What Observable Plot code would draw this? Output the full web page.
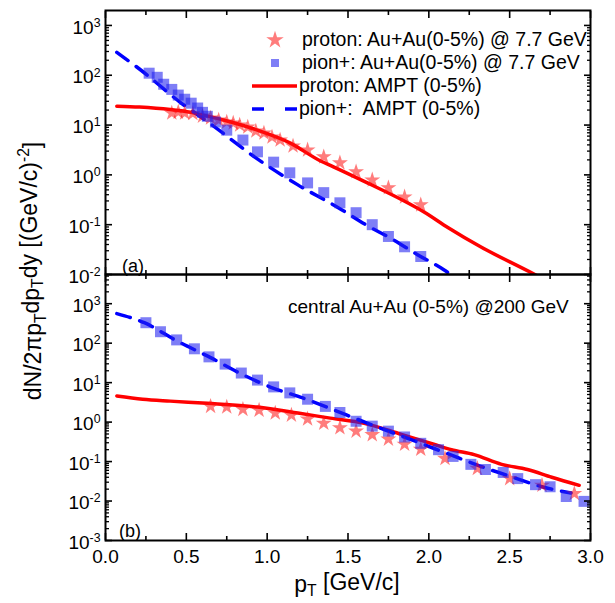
<!DOCTYPE html>
<html><head><meta charset="utf-8">
<script src="https://cdn.jsdelivr.net/npm/d3@7"></script>
<script src="https://cdn.jsdelivr.net/npm/@observablehq/plot@0.6"></script>
<style>
body{margin:0;background:#fff;}
#wrap{position:relative;width:615px;height:603px;}
#wrap svg{position:absolute;left:0;top:0;}
</style></head><body><div id="wrap"></div>
<script>
// ---------- tick values ----------
const xTickMajor = [0, 0.5, 1, 1.5, 2, 2.5, 3];
const xTickMinor = [0.25, 0.75, 1.25, 1.75, 2.25, 2.75];
const yDecadesA = [-2, -1, 0, 1, 2, 3];
const yDecadesB = [-3, -2, -1, 0, 1, 2, 3];

// ---------- panel (a): Au+Au 7.7 GeV ----------
const aProtonDataPt = [0.41,0.45,0.49,0.54,0.60,0.65,0.70,0.75,0.79,0.83,0.88,0.93,0.98,1.03,1.08,1.16,1.25,1.35,1.45,1.55,1.65,1.75,1.85,1.95];
const aProtonDataY  = [17.4,18.2,17.4,17.0,15.1,13.8,12.6,11.5,11.0,10.0,9.1,7.6,6.9,5.75,5.0,3.8,3.16,2.3,1.74,1.15,0.79,0.55,0.36,0.25];
const aPionDataPt = [0.27,0.32,0.36,0.41,0.45,0.49,0.53,0.57,0.60,0.63,0.68,0.75,0.85,0.94,1.04,1.14,1.25,1.35,1.45,1.55,1.65,1.75,1.85,1.95];
const aPionDataY  = [110,91,66,52,40,33,27.5,22,18,15,11.5,7.9,5.0,2.9,1.8,1.1,0.69,0.44,0.275,0.174,0.10,0.058,0.036,0.023];
const aProtonAmptPt = [0.07,0.21,0.40,0.52,0.73,0.94,1.14,1.33,1.41,1.62,1.83,1.97,2.12,2.32,2.65,2.75];
const aProtonAmptY  = [24,23,20.5,18.2,12.6,7.9,4.4,1.9,1.45,0.69,0.32,0.18,0.087,0.036,0.0102,0.0068];
const aPionAmptPt = [0.07,0.22,0.46,0.66,0.93,1.19,1.45,1.61,1.78,1.93,2.09,2.2];
const aPionAmptY  = [288,126,29,10,2.2,0.63,0.21,0.10,0.05,0.025,0.0126,0.007];

// ---------- panel (b): Au+Au 200 GeV ----------
const bProtonDataPt = [0.65,0.75,0.85,0.95,1.05,1.15,1.25,1.35,1.45,1.55,1.65,1.75,1.85,1.95,2.10,2.30,2.50,2.70,2.90];
const bProtonDataY  = [2.5,2.4,2.1,2.0,1.7,1.5,1.2,0.93,0.72,0.59,0.48,0.37,0.275,0.205,0.12,0.067,0.037,0.025,0.0155];
const bPionDataPt = [0.25,0.34,0.44,0.55,0.64,0.74,0.84,0.94,1.04,1.14,1.25,1.36,1.45,1.55,1.65,1.75,1.85,1.95,2.06,2.15,2.26,2.35,2.46,2.55,2.66,2.75,2.85,2.96];
const bPionDataY  = [330,195,121,72,45,29.5,17.5,11.6,7.8,5.5,3.8,2.5,1.75,1.05,0.79,0.59,0.42,0.29,0.20,0.135,0.085,0.063,0.053,0.037,0.026,0.023,0.013,0.0098];
const bProtonAmptPt = [0.07,0.23,0.40,0.63,0.94,1.19,1.39,1.60,1.83,2.03,2.14,2.28,2.45,2.61,2.76,2.93];
const bProtonAmptY  = [4.6,3.8,3.4,3.0,2.4,1.7,1.26,0.93,0.49,0.275,0.20,0.15,0.085,0.063,0.040,0.025];
const bPionAmptPt = [0.07,0.24,0.44,0.65,0.83,1.04,1.22,1.43,1.56,1.95,2.14,2.32,2.52,2.70,2.88];
const bPionAmptY  = [560,330,115,43,17.4,7.2,4.1,1.9,1.17,0.29,0.145,0.076,0.040,0.023,0.016];

// ---------- labels ----------
const legendLabels = ["proton: Au+Au(0-5%) @ 7.7 GeV", "pion+: Au+Au(0-5%) @ 7.7 GeV", "proton: AMPT (0-5%)", "pion+:  AMPT (0-5%)"];
const panelBText = "central Au+Au (0-5%) @200 GeV";

const FONT = '"Liberation Sans", Arial, Helvetica, sans-serif';
const STAR_FILL = "#ff1010", STAR_OP = 0.55;
const SQ_FILL = "#2020f0", SQ_OP = 0.58;
const zip = (xs, ys) => xs.map((x, i) => ({x, y: ys[i]}));

function minorTicks([lo, hi]) {
  const t = [];
  for (let e = Math.floor(Math.log10(lo)); e <= Math.ceil(Math.log10(hi)); e++)
    for (let m = 2; m <= 9; m++) { const v = m * 10 ** e; if (v >= lo && v <= hi) t.push(v); }
  return t;
}

function panel({yDomain, decades, marginTop, marginBottom, proton, pion, protonLine, pionLine, xLabels}) {
  const yMajor = decades.map(e => 10 ** e);
  const yMinor = minorTicks(yDomain);
  const blank = () => "";
  const marks = [
    Plot.line(protonLine, {x: "x", y: "y", stroke: "#ff0000", strokeWidth: 3.5, curve: "monotone-x", clip: true}),
    Plot.line(pionLine, {x: "x", y: "y", stroke: "#0000ff", strokeWidth: 3.5, strokeDasharray: "14,10", curve: "monotone-x", clip: true}),
    Plot.dot(proton, {x: "x", y: "y", symbol: "star", r: 5, fill: STAR_FILL, fillOpacity: STAR_OP, stroke: "none"}),
    Plot.dot(pion, {x: "x", y: "y", symbol: "square", r: 6.2, fill: SQ_FILL, fillOpacity: SQ_OP, stroke: "none"}),
    Plot.frame({stroke: "black", strokeWidth: 2})
  ];
  for (const anchor of ["bottom", "top"]) {
    marks.push(Plot.axisX({anchor, ticks: xTickMajor, tickSize: -7, strokeWidth: 1.6, tickFormat: blank, label: null}));
    marks.push(Plot.axisX({anchor, ticks: xTickMinor, tickSize: -4, strokeWidth: 1.6, tickFormat: blank, label: null}));
  }
  for (const anchor of ["left", "right"]) {
    marks.push(Plot.axisY({anchor, ticks: yMajor, tickSize: -7, strokeWidth: 1.6, tickFormat: blank, label: null}));
    marks.push(Plot.axisY({anchor, ticks: yMinor, tickSize: -4, strokeWidth: 1.3, tickFormat: blank, label: null}));
  }
  marks.push(Plot.axisY({anchor: "left", ticks: yMajor, tickSize: 0, tickPadding: 5, dy: 2, fontSize: 19,
    tickFormat: d => "10^" + Math.round(Math.log10(d)), label: null}));
  if (xLabels) marks.push(Plot.axisX({anchor: "bottom", ticks: xTickMajor, tickSize: 0, tickPadding: 9, fontSize: 19,
    tickFormat: d3.format(".1f"), label: null}));
  const svg = Plot.plot({
    width: 615, height: 603, marginLeft: 105, marginRight: 25, marginTop, marginBottom,
    x: {domain: [0, 3], label: null},
    y: {type: "log", domain: yDomain, label: null},
    style: {fontFamily: FONT, background: "none", overflow: "visible", color: "black"},
    marks
  });
  // superscript exponents on y tick labels
  svg.querySelectorAll('g[aria-label="y-axis tick label"] text').forEach(t => {
    const s = t.textContent;
    if (!s.includes("^")) return;
    const [b, e] = s.split("^");
    t.textContent = "";
    const ns = "http://www.w3.org/2000/svg";
    const t1 = document.createElementNS(ns, "tspan"); t1.textContent = b; t.appendChild(t1);
    const t2 = document.createElementNS(ns, "tspan"); t2.textContent = e;
    t2.setAttribute("dy", "-0.55em"); t2.setAttribute("font-size", "0.65em"); t.appendChild(t2);
  });
  return svg;
}

const wrap = document.getElementById("wrap");
wrap.appendChild(panel({
  yDomain: [1e-2, 10 ** 3.3], decades: yDecadesA, marginTop: 10, marginBottom: 329,
  proton: zip(aProtonDataPt, aProtonDataY), pion: zip(aPionDataPt, aPionDataY),
  protonLine: zip(aProtonAmptPt, aProtonAmptY), pionLine: zip(aPionAmptPt, aPionAmptY), xLabels: false
}));
wrap.appendChild(panel({
  yDomain: [1e-3, 10 ** 3.74], decades: yDecadesB, marginTop: 274, marginBottom: 63,
  proton: zip(bProtonDataPt, bProtonDataY), pion: zip(bPionDataPt, bPionDataY),
  protonLine: zip(bProtonAmptPt, bProtonAmptY), pionLine: zip(bPionAmptPt, bPionAmptY), xLabels: true
}));

// ---------- overlay: axis titles, legend, annotations ----------
const ov = d3.select(wrap).append("svg").attr("width", 615).attr("height", 603)
  .style("font-family", FONT).style("pointer-events", "none");

// y title
const yt = ov.append("text").attr("transform", "translate(41,271) rotate(-90)")
  .attr("text-anchor", "middle").attr("font-size", 23);
yt.append("tspan").text("dN/2πp");
yt.append("tspan").attr("dy", "0.3em").attr("font-size", "0.68em").text("T");
yt.append("tspan").attr("dy", "-0.3em").text("dp");
yt.append("tspan").attr("dy", "0.3em").attr("font-size", "0.68em").text("T");
yt.append("tspan").attr("dy", "-0.3em").text("dy [(GeV/c)");
yt.append("tspan").attr("dy", "-0.5em").attr("font-size", "0.68em").text("-2");
yt.append("tspan").attr("dy", "0.5em").text("]");

// x title
const xt = ov.append("text").attr("x", 347).attr("y", 592).attr("text-anchor", "middle").attr("font-size", 23);
xt.append("tspan").text("p");
xt.append("tspan").attr("dy", "0.25em").attr("font-size", "0.68em").text("T");
xt.append("tspan").attr("dy", "-0.25em").text(" [GeV/c]");

// legend
const lg = ov.append("g").attr("font-size", 19.5);
const rowsBase = [46, 69, 92, 115];
lg.append("path").attr("transform", `translate(275,${rowsBase[0] - 6})`)
  .attr("d", d3.symbol(d3.symbolStar, 95)()).attr("fill", STAR_FILL).attr("fill-opacity", STAR_OP);
lg.append("rect").attr("x", 271).attr("y", rowsBase[1] - 10).attr("width", 8).attr("height", 8)
  .attr("fill", SQ_FILL).attr("fill-opacity", SQ_OP);
lg.append("line").attr("x1", 252).attr("x2", 297).attr("y1", rowsBase[2] - 6).attr("y2", rowsBase[2] - 6)
  .attr("stroke", "#ff0000").attr("stroke-width", 3.5);
lg.append("line").attr("x1", 252).attr("x2", 297).attr("y1", rowsBase[3] - 6).attr("y2", rowsBase[3] - 6)
  .attr("stroke", "#0000ff").attr("stroke-width", 3.5).attr("stroke-dasharray", "12,21");
legendLabels.forEach((s, i) => {
  lg.append("text").attr("x", i < 2 ? 302 : 299).attr("y", rowsBase[i]).attr("xml:space", "preserve")
    .style("white-space", "pre").text(s);
});

// annotations
ov.append("text").attr("x", 288).attr("y", 313).attr("font-size", 19).text(panelBText);
ov.append("text").attr("x", 122).attr("y", 272).attr("font-size", 18).text("(a)");
ov.append("text").attr("x", 119).attr("y", 537).attr("font-size", 18).text("(b)");
</script>
</body></html>
